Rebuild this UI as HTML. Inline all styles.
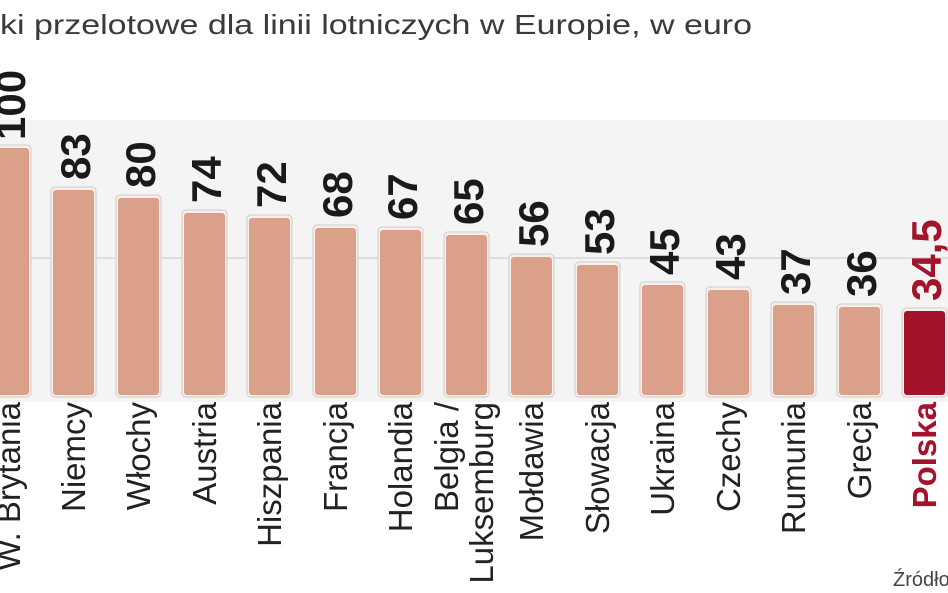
<!DOCTYPE html>
<html><head><meta charset="utf-8"><style>
html,body{margin:0;padding:0;background:#fff;}
svg{display:block;}
</style></head><body>
<svg width="948" height="593" xmlns="http://www.w3.org/2000/svg" font-family="Liberation Sans, sans-serif">
<rect x="0" y="120" width="948" height="282" fill="#f4f4f4"/>
<line x1="0" y1="258" x2="948" y2="258" stroke="#d8d8d8" stroke-width="1.5"/>
<text x="0" y="34" font-size="28" fill="#3a3a3a" textLength="752" lengthAdjust="spacingAndGlyphs">ki przelotowe dla linii lotniczych w Europie, w euro</text>
<g stroke="#ccc" stroke-width="1">
<rect x="-14" y="145" width="45" height="252" rx="4" fill="#fbeee8"/>
<rect x="51" y="187" width="45" height="210" rx="4" fill="#fbeee8"/>
<rect x="116" y="195" width="45" height="202" rx="4" fill="#fbeee8"/>
<rect x="182" y="210" width="45" height="187" rx="4" fill="#fbeee8"/>
<rect x="247" y="215" width="45" height="182" rx="4" fill="#fbeee8"/>
<rect x="313" y="225" width="45" height="172" rx="4" fill="#fbeee8"/>
<rect x="378" y="227" width="45" height="170" rx="4" fill="#fbeee8"/>
<rect x="444" y="232" width="45" height="165" rx="4" fill="#fbeee8"/>
<rect x="509" y="254" width="45" height="143" rx="4" fill="#fbeee8"/>
<rect x="575" y="262" width="45" height="135" rx="4" fill="#fbeee8"/>
<rect x="640" y="282" width="45" height="115" rx="4" fill="#fbeee8"/>
<rect x="706" y="287" width="45" height="110" rx="4" fill="#fbeee8"/>
<rect x="771" y="302" width="45" height="95" rx="4" fill="#fbeee8"/>
<rect x="837" y="304" width="45" height="93" rx="4" fill="#fbeee8"/>
<rect x="902" y="308" width="45" height="89" rx="4" fill="#fbeee8"/>
</g>
<g fill="#dba08a">
<rect x="-12" y="148" width="41" height="247" rx="3"/>
<rect x="53" y="190" width="41" height="205" rx="3"/>
<rect x="118" y="198" width="41" height="197" rx="3"/>
<rect x="184" y="213" width="41" height="182" rx="3"/>
<rect x="249" y="218" width="41" height="177" rx="3"/>
<rect x="315" y="228" width="41" height="167" rx="3"/>
<rect x="380" y="230" width="41" height="165" rx="3"/>
<rect x="446" y="235" width="41" height="160" rx="3"/>
<rect x="511" y="257" width="41" height="138" rx="3"/>
<rect x="577" y="265" width="41" height="130" rx="3"/>
<rect x="642" y="285" width="41" height="110" rx="3"/>
<rect x="708" y="290" width="41" height="105" rx="3"/>
<rect x="773" y="305" width="41" height="90" rx="3"/>
<rect x="839" y="307" width="41" height="88" rx="3"/>
<rect x="904" y="311" width="41" height="84" rx="3" fill="#a3132b"/>
</g>
<g font-size="42" font-weight="bold" fill="#1a1a1a">
<text transform="translate(25,140) rotate(-90)">100</text>
<text transform="translate(90,180) rotate(-90)">83</text>
<text transform="translate(155,188) rotate(-90)">80</text>
<text transform="translate(221,203) rotate(-90)">74</text>
<text transform="translate(286,208) rotate(-90)">72</text>
<text transform="translate(352,218) rotate(-90)">68</text>
<text transform="translate(417,220) rotate(-90)">67</text>
<text transform="translate(483,225) rotate(-90)">65</text>
<text transform="translate(548,247) rotate(-90)">56</text>
<text transform="translate(614,255) rotate(-90)">53</text>
<text transform="translate(679,275) rotate(-90)">45</text>
<text transform="translate(745,280) rotate(-90)">43</text>
<text transform="translate(810,295) rotate(-90)">37</text>
<text transform="translate(876,297) rotate(-90)">36</text>
<text transform="translate(941,301) rotate(-90)" fill="#a3132b">34,5</text>
</g>
<g font-size="33" fill="#222" text-anchor="end">
<text transform="translate(20,402) rotate(-90)">W. Brytania</text>
<text transform="translate(85,402) rotate(-90)">Niemcy</text>
<text transform="translate(150,402) rotate(-90)">Włochy</text>
<text transform="translate(216,402) rotate(-90)">Austria</text>
<text transform="translate(281,402) rotate(-90)">Hiszpania</text>
<text transform="translate(347,402) rotate(-90)">Francja</text>
<text transform="translate(412,402) rotate(-90)">Holandia</text>
<text transform="translate(458,402) rotate(-90)">Belgia /</text>
<text transform="translate(493,402) rotate(-90)">Luksemburg</text>
<text transform="translate(543,402) rotate(-90)">Mołdawia</text>
<text transform="translate(609,402) rotate(-90)">Słowacja</text>
<text transform="translate(674,402) rotate(-90)">Ukraina</text>
<text transform="translate(740,402) rotate(-90)">Czechy</text>
<text transform="translate(805,402) rotate(-90)">Rumunia</text>
<text transform="translate(871,402) rotate(-90)">Grecja</text>
<text transform="translate(936,402) rotate(-90)" fill="#a3132b" font-weight="bold">Polska</text>
</g>
<text x="893" y="586" font-size="20" fill="#444">Źródło</text>
</svg>
</body></html>
